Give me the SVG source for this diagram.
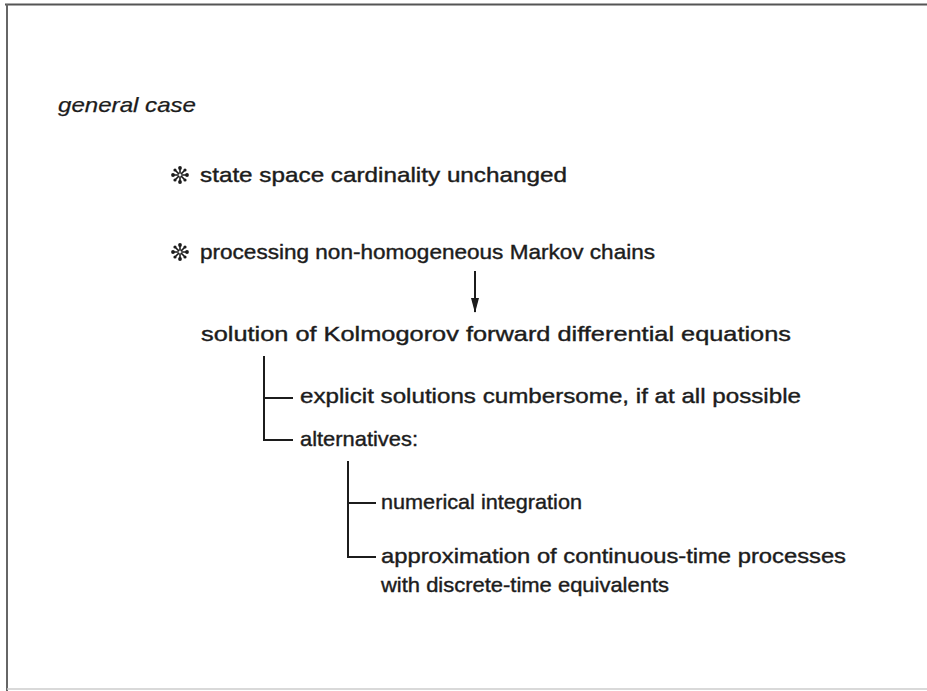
<svg xmlns="http://www.w3.org/2000/svg" width="927" height="691" viewBox="0 0 927 691">
<defs>
<style>
.t{font-family:"Liberation Sans",Arial,sans-serif;font-size:21px;fill:#1c1c1c;stroke:#1c1c1c;stroke-width:0.4px}
.i{font-style:italic;stroke-width:0.25px}
.ln{stroke:#1c1c1c;stroke-width:2;fill:none}
</style>
<marker id="ah" markerWidth="15" markerHeight="8" refX="14" refY="4" orient="auto" markerUnits="userSpaceOnUse" viewBox="0 0 15 8">
<path d="M0,0 L15,4 L0,8 Z" fill="#1c1c1c"/>
</marker>
<g id="star">
<g stroke="#1c1c1c" stroke-width="1.6" stroke-linecap="round">
<line x1="0" y1="-2" x2="0" y2="-6"/><line x1="0" y1="2" x2="0" y2="6"/>
<line x1="-2" y1="0" x2="-6" y2="0"/><line x1="2" y1="0" x2="6" y2="0"/>
<line x1="1.4" y1="1.4" x2="4.3" y2="4.3"/><line x1="-1.4" y1="-1.4" x2="-4.3" y2="-4.3"/>
<line x1="1.4" y1="-1.4" x2="4.3" y2="-4.3"/><line x1="-1.4" y1="1.4" x2="-4.3" y2="4.3"/>
</g>
<g fill="#1c1c1c">
<circle cx="0" cy="-7" r="1.9"/><circle cx="0" cy="7" r="1.9"/><circle cx="-7" cy="0" r="1.9"/><circle cx="7" cy="0" r="1.9"/>
<circle cx="5" cy="5" r="1.6"/><circle cx="-5" cy="-5" r="1.6"/><circle cx="5" cy="-5" r="1.6"/><circle cx="-5" cy="5" r="1.6"/>
</g>
</g>
</defs>
<rect width="927" height="691" fill="#ffffff"/>
<g id="frame">
<line x1="5" y1="4.5" x2="927" y2="4.5" stroke="#555" stroke-width="2"/>
<line x1="7" y1="4" x2="7" y2="691" stroke="#666" stroke-width="2"/>
<line x1="7" y1="689" x2="927" y2="689" stroke="#ccc" stroke-width="1.5"/>
</g>
<g id="title"><text class="t i" x="58" y="112" textLength="138" lengthAdjust="spacingAndGlyphs">general case</text></g>
<g id="item1">
<use href="#star" x="180" y="175"/>
<text class="t" x="200" y="182" textLength="367" lengthAdjust="spacingAndGlyphs">state space cardinality unchanged</text>
</g>
<g id="item2">
<use href="#star" x="180" y="252"/>
<text class="t" x="200" y="259" textLength="455" lengthAdjust="spacingAndGlyphs">processing non-homogeneous Markov chains</text>
</g>
<g id="solution"><text class="t" x="201" y="341" textLength="590" lengthAdjust="spacingAndGlyphs">solution of Kolmogorov forward differential equations</text></g>
<g id="explicit"><text class="t" x="300" y="403" textLength="501" lengthAdjust="spacingAndGlyphs">explicit solutions cumbersome, if at all possible</text></g>
<g id="alternatives"><text class="t" x="300" y="446" textLength="118" lengthAdjust="spacingAndGlyphs">alternatives:</text></g>
<g id="numerical"><text class="t" x="381" y="509" textLength="201" lengthAdjust="spacingAndGlyphs">numerical integration</text></g>
<g id="approximation">
<text class="t" x="381" y="563" textLength="465" lengthAdjust="spacingAndGlyphs">approximation of continuous-time processes</text>
<text class="t" x="381" y="592" textLength="288" lengthAdjust="spacingAndGlyphs">with discrete-time equivalents</text>
</g>
<g id="connectors">
<line class="ln" x1="475" y1="271" x2="475" y2="312" marker-end="url(#ah)"/>
<path class="ln" d="M264,356 V440 H293 M264,398 H293"/>
<path class="ln" d="M348,461 V557 H376 M348,503 H376"/>
</g>
</svg>
